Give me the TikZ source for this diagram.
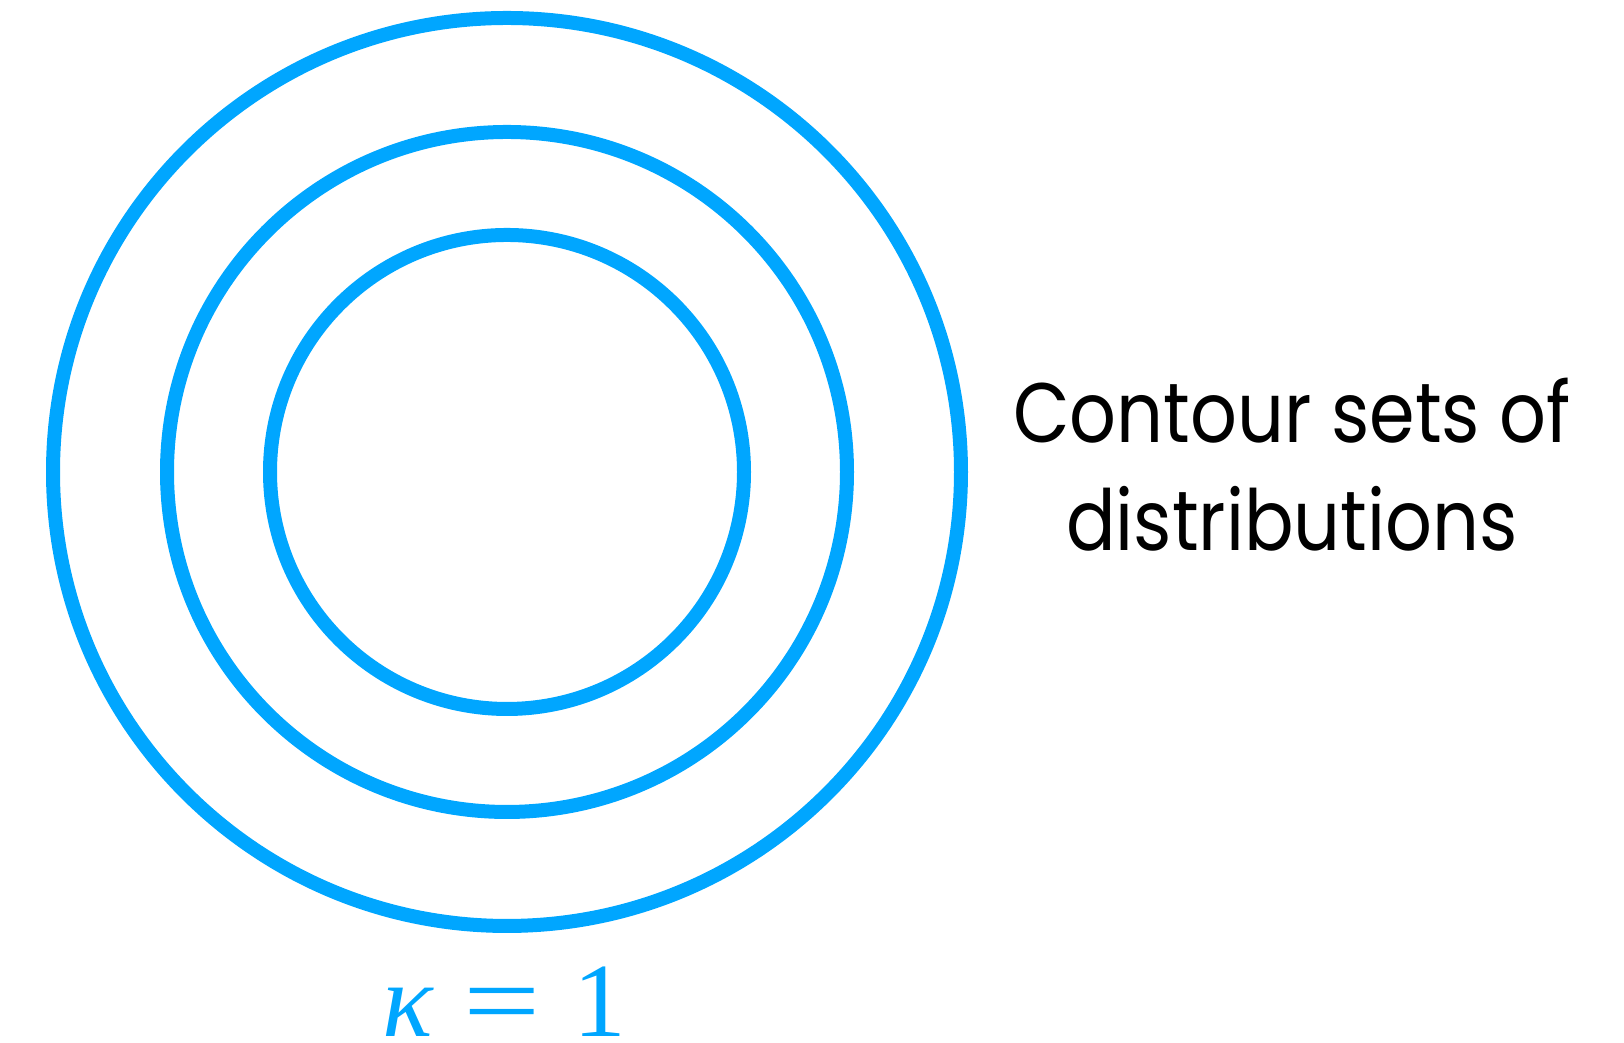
\documentclass[tikz,border=0pt]{standalone}
\usepackage{fontspec}
\newfontfamily\labelfont[FakeStretch=0.87]{Poppins}
\newfontfamily\kappafont{Liberation Serif}
\definecolor{ringblue}{RGB}{0,166,255}
\begin{document}
\begin{tikzpicture}[]
      \useasboundingbox (0,0) rectangle (16.24,10.43);
      \coordinate (centre) at (5.07,5.71);

      \tikzstyle{ring} = [
        circle,
        draw=ringblue,
        line width=1.4mm,
        inner sep=0pt,
        outer sep=0pt,
      ]
      \tikzstyle{caption} = [
        draw=none,
        anchor=base,
        align=center,
        font=\labelfont\fontsize{24}{31}\selectfont
      ]

      % contours
      \node[ring,minimum size=90.8mm] (ringOuter) at (centre) {};
      \node[ring,minimum size=68.0mm] (ringMid) at (centre) {};
      \node[ring,minimum size=47.4mm] (ringInner) at (centre) {};

      % labels
      \node[caption] (contourLabel) at (12.92,4.92) {Contour sets of\\distributions};
      \node[anchor=base,inner sep=0pt,text=ringblue,font=\kappafont\fontsize{30}{30}\selectfont] (kappaLabel) at (5.04,0.06) {\textit{κ}\hspace{0.3cm}\scalebox{1.3}[1]{=}\hspace{0.32cm}1};
    \end{tikzpicture}
\end{document}
